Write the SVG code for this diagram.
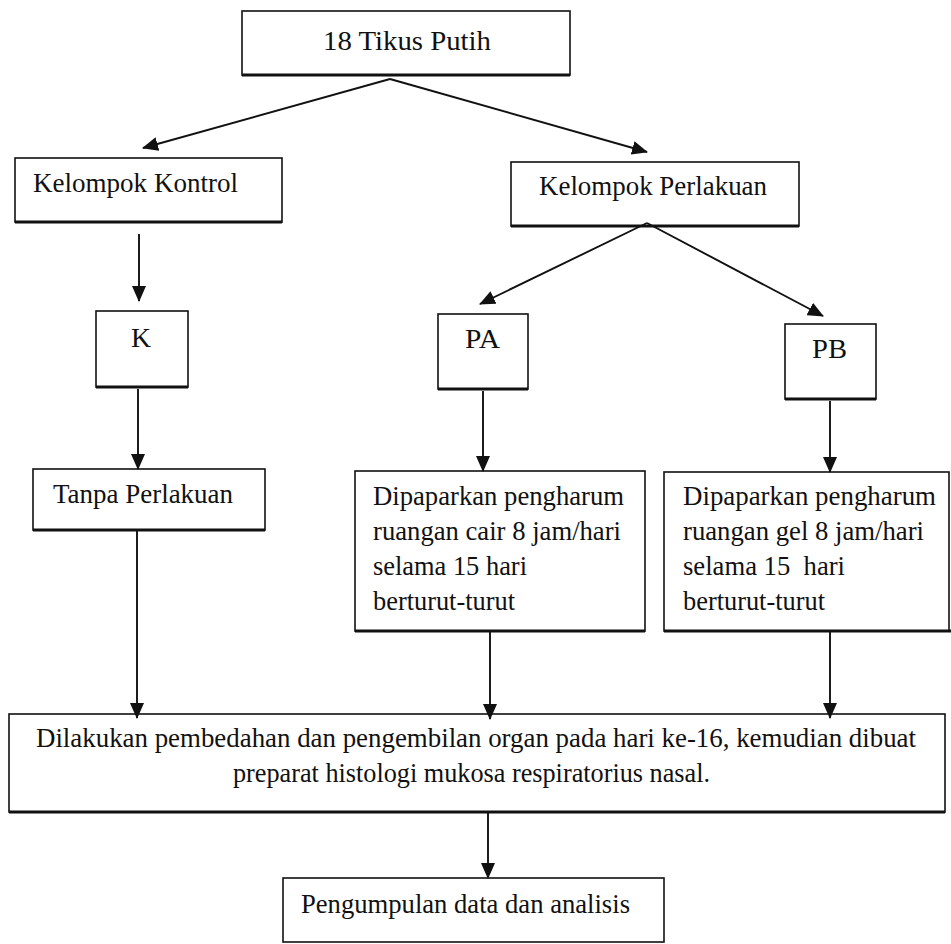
<svg xmlns="http://www.w3.org/2000/svg" width="951" height="944" viewBox="0 0 951 944">
<style>
.box{fill:#fff;stroke:#111;stroke-width:1.6}
.base{stroke:#111;stroke-width:3.2}
.t{font-family:"Liberation Serif","Times New Roman",serif;font-size:27px;fill:#111}
.c{stroke:#111;stroke-width:1.9;fill:none}
</style>
<defs>
<marker id="ah" viewBox="0 0 16 14" refX="15" refY="7" markerWidth="16" markerHeight="14" markerUnits="userSpaceOnUse" orient="auto">
<path d="M0,0 L16,7 L0,14 z" fill="#111"/>
</marker>
</defs>
<rect width="951" height="944" fill="#fff"/>
<g id="n-tikus">
<rect class="box" x="242" y="11" width="328" height="64"/><line class="base" x1="242" y1="75" x2="570" y2="75"/>
<text class="t" x="323" y="50" textLength="168" lengthAdjust="spacingAndGlyphs">18 Tikus Putih</text>
</g>
<g id="n-kontrol">
<rect class="box" x="15" y="158" width="267" height="64"/><line class="base" x1="15" y1="222" x2="282" y2="222"/>
<text class="t" x="33" y="192" textLength="205" lengthAdjust="spacingAndGlyphs">Kelompok Kontrol</text>
</g>
<g id="n-perlakuan">
<rect class="box" x="511" y="162" width="288" height="64"/><line class="base" x1="511" y1="226" x2="799" y2="226"/>
<text class="t" x="539" y="195" textLength="228" lengthAdjust="spacingAndGlyphs">Kelompok Perlakuan</text>
</g>
<g id="n-k">
<rect class="box" x="96" y="311" width="92" height="76"/><line class="base" x1="96" y1="387" x2="188" y2="387"/>
<text class="t" x="131" y="347" textLength="20" lengthAdjust="spacingAndGlyphs">K</text>
</g>
<g id="n-pa">
<rect class="box" x="438" y="314" width="90" height="75"/><line class="base" x1="438" y1="389" x2="528" y2="389"/>
<text class="t" x="465" y="348" textLength="35" lengthAdjust="spacingAndGlyphs">PA</text>
</g>
<g id="n-pb">
<rect class="box" x="785" y="324" width="91" height="75"/><line class="base" x1="785" y1="399" x2="876" y2="399"/>
<text class="t" x="812" y="358" textLength="35" lengthAdjust="spacingAndGlyphs">PB</text>
</g>
<g id="n-tanpa">
<rect class="box" x="33" y="469" width="232" height="61"/><line class="base" x1="33" y1="530" x2="265" y2="530"/>
<text class="t" x="53" y="503" textLength="180" lengthAdjust="spacingAndGlyphs">Tanpa Perlakuan</text>
</g>
<g id="n-cair">
<rect class="box" x="355" y="471" width="290" height="160"/><line class="base" x1="355" y1="631" x2="645" y2="631"/>
<text class="t" x="373" y="505" textLength="251" lengthAdjust="spacingAndGlyphs">Dipaparkan pengharum</text>
<text class="t" x="373" y="540" textLength="248" lengthAdjust="spacingAndGlyphs">ruangan cair 8 jam/hari</text>
<text class="t" x="373" y="575" textLength="154" lengthAdjust="spacingAndGlyphs">selama 15 hari</text>
<text class="t" x="373" y="610" textLength="142" lengthAdjust="spacingAndGlyphs">berturut-turut</text>
</g>
<g id="n-gel">
<rect class="box" x="664" y="472" width="285" height="159"/><line class="base" x1="664" y1="631" x2="951" y2="631"/>
<text class="t" x="683" y="505" textLength="253" lengthAdjust="spacingAndGlyphs">Dipaparkan pengharum</text>
<text class="t" x="683" y="540" textLength="241" lengthAdjust="spacingAndGlyphs">ruangan gel 8 jam/hari</text>
<text class="t" x="683" y="575" textLength="162" lengthAdjust="spacingAndGlyphs" xml:space="preserve">selama 15  hari</text>
<text class="t" x="683" y="610" textLength="142" lengthAdjust="spacingAndGlyphs">berturut-turut</text>
</g>
<g id="n-bedah">
<rect class="box" x="9" y="714" width="936" height="98"/><line class="base" x1="9" y1="812" x2="945" y2="812"/>
<text class="t" x="36" y="747" textLength="880" lengthAdjust="spacingAndGlyphs">Dilakukan pembedahan dan pengembilan organ pada hari ke-16, kemudian dibuat</text>
<text class="t" x="233" y="782" textLength="477" lengthAdjust="spacingAndGlyphs">preparat histologi mukosa respiratorius nasal.</text>
</g>
<g id="n-data">
<rect class="box" x="283" y="878" width="381" height="64"/>
<text class="t" x="301" y="913" textLength="329" lengthAdjust="spacingAndGlyphs">Pengumpulan data dan analisis</text>
</g>
<g id="connectors">
<line class="c" x1="390" y1="79" x2="143" y2="148" marker-end="url(#ah)"/>
<line class="c" x1="390" y1="79" x2="647" y2="152" marker-end="url(#ah)"/>
<line class="c" x1="139" y1="234" x2="139" y2="301" marker-end="url(#ah)"/>
<line class="c" x1="647" y1="223" x2="480" y2="304" marker-end="url(#ah)"/>
<line class="c" x1="647" y1="223" x2="823" y2="316" marker-end="url(#ah)"/>
<line class="c" x1="138" y1="389" x2="138" y2="469" marker-end="url(#ah)"/>
<line class="c" x1="483" y1="391" x2="483" y2="471" marker-end="url(#ah)"/>
<line class="c" x1="830" y1="401" x2="830" y2="472" marker-end="url(#ah)"/>
<line class="c" x1="137" y1="531" x2="137" y2="718" marker-end="url(#ah)"/>
<line class="c" x1="490" y1="632" x2="490" y2="719" marker-end="url(#ah)"/>
<line class="c" x1="830" y1="632" x2="830" y2="718" marker-end="url(#ah)"/>
<line class="c" x1="488" y1="813" x2="488" y2="878" marker-end="url(#ah)"/>
</g>
</svg>
